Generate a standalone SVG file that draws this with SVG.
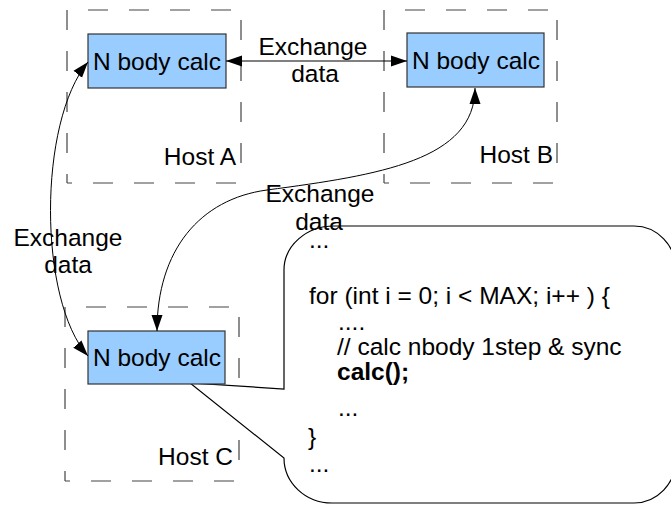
<svg xmlns="http://www.w3.org/2000/svg" width="671" height="505" viewBox="0 0 671 505">
<style>
.host path{fill:none;stroke:#444;stroke-width:1.2;stroke-dasharray:20 21}
.host .top{stroke-dashoffset:20}
.host .right{stroke-dashoffset:31}
.host .left{stroke-dashoffset:0}
.host .bottom{stroke-dashoffset:15}
.node{fill:#99ccff;stroke:#333;stroke-width:1.2}
.t{font-family:"Liberation Sans",Arial,sans-serif;font-size:24.5px;fill:#000}
.c{text-anchor:middle}
.e{text-anchor:end}
.conn{fill:none;stroke:#000;stroke-width:1}
.callout{fill:#fff;stroke:#000;stroke-width:1.2}
</style>
<defs>
<marker id="ah" markerUnits="userSpaceOnUse" markerWidth="16" markerHeight="12" viewBox="0 0 16 12" refX="16" refY="6" orient="auto-start-reverse">
<path d="M0,0.5 L16,6 L0,11.5 Z" fill="#000"/>
</marker>
</defs>
<rect width="671" height="505" fill="#fff"/>
<g id="hostA" class="host">
<path class="top" d="M67,10 H241"/><path class="right" d="M241,10 V183"/><path class="left" d="M67,10 V183"/><path class="bottom" d="M67,183 H241"/>
<text class="t e" x="236" y="165">Host A</text></g>
<g id="hostB" class="host">
<path class="top" d="M384,10 H557"/><path class="right" d="M557,10 V183"/><path class="left" d="M384,10 V183"/><path class="bottom" d="M384,183 H557"/>
<text class="t e" x="553" y="163">Host B</text></g>
<g id="hostC" class="host">
<path class="top" d="M65,307 H239"/><path class="right" d="M239,307 V481"/><path class="left" d="M65,307 V481"/><path class="bottom" d="M65,481 H239"/>
<text class="t e" x="233" y="465">Host C</text></g>
<g id="callout">
<path class="callout" d="M334,226 H634 A42,44 0 0 1 676,270 V459 A42,44 0 0 1 634,503 H332 A48,45 0 0 1 284,458 L190,383 L284,389 V270 A50,44 0 0 1 334,226 Z"/>
<text class="t" x="309" y="248">...</text>
<text class="t" x="309" y="304">for (int i = 0; i &lt; MAX; i++ ) {</text>
<text class="t" x="338" y="330">....</text>
<text class="t" x="337" y="355">// calc nbody 1step &amp; sync</text>
<text class="t" x="337" y="380" font-weight="bold">calc();</text>
<text class="t" x="338" y="416">...</text>
<text class="t" x="308" y="445">}</text>
<text class="t" x="309" y="472">...</text>
</g>
<g id="nodeA"><rect class="node" x="88" y="34" width="138" height="54"/><text class="t c" x="157" y="70">N body calc</text></g>
<g id="nodeB"><rect class="node" x="407" y="33" width="137" height="54"/><text class="t c" x="476" y="69">N body calc</text></g>
<g id="nodeC"><rect class="node" x="88" y="331" width="137" height="53"/><text class="t c" x="157" y="366">N body calc</text></g>
<g id="connectors">
<path class="conn" d="M226,61 H407" marker-start="url(#ah)" marker-end="url(#ah)"/>
<path class="conn" d="M88,62 C38,122 38,300 88,356" marker-start="url(#ah)" marker-end="url(#ah)"/>
<path class="conn" d="M475,88 C475,160 380,175 267,190 C200,199 157,250 157,331" marker-start="url(#ah)" marker-end="url(#ah)"/>
</g>
<g id="labels">
<text class="t c" x="313" y="55">Exchange</text>
<text class="t c" x="315" y="82">data</text>
<text class="t c" x="68" y="246">Exchange</text>
<text class="t c" x="68" y="273">data</text>
<text class="t c" x="320" y="202">Exchange</text>
<text class="t c" x="319" y="230">data</text>
</g>
</svg>
